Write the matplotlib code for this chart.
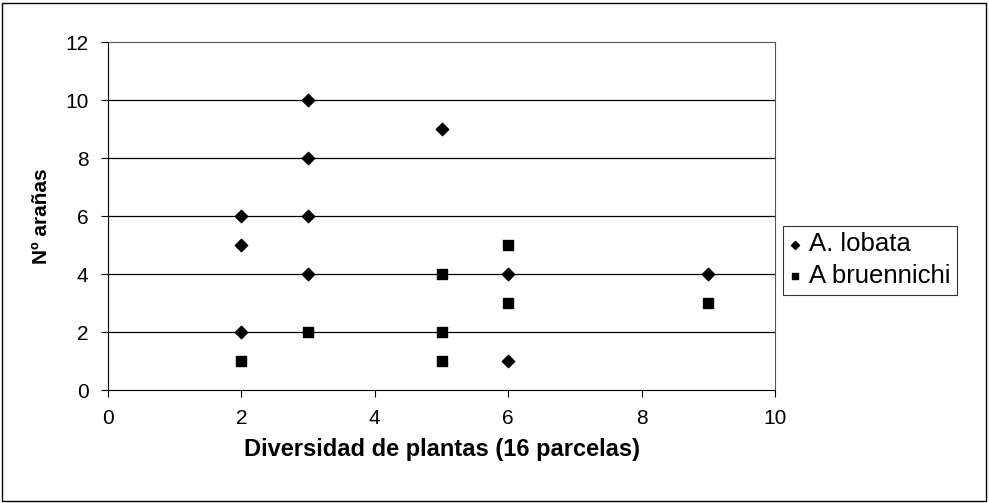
import matplotlib.pyplot as plt
from matplotlib.patches import Rectangle

plt.rcParams['font.family'] = ['Liberation Sans', 'DejaVu Sans']

# A. lobata (diamonds)
lobata_x = [2, 2, 2, 3, 3, 3, 3, 5, 6, 6, 9]
lobata_y = [6, 5, 2, 10, 8, 6, 4, 9, 4, 1, 4]

# A bruennichi (squares)
bruen_x = [2, 3, 5, 5, 5, 6, 6, 9]
bruen_y = [1, 2, 4, 2, 1, 5, 3, 3]

x_ticks = [0, 2, 4, 6, 8, 10]
y_ticks = [0, 2, 4, 6, 8, 10, 12]


def main():
    fig = plt.figure(figsize=(9.89, 5.03), dpi=100)
    ax = fig.add_axes([108 / 989, 113 / 503, 667 / 989, 348 / 503])

    # horizontal gridlines like Excel
    for y in y_ticks[1:-1]:
        ax.axhline(y, color='black', lw=0.9, zorder=1)

    ax.scatter(lobata_x, lobata_y, marker='D', s=40, color='black',
               zorder=3, label='A. lobata')
    ax.scatter(bruen_x, bruen_y, marker='s', s=55, color='black',
               zorder=3, label='A bruennichi')

    ax.set_xlim(0, 10)
    ax.set_ylim(0, 12)
    ax.set_xticks(x_ticks)
    ax.set_yticks(y_ticks)
    ax.tick_params(labelsize=15, length=5, width=0.8, pad=9)

    ax.spines['left'].set_color('black')
    ax.spines['bottom'].set_color('black')
    for s in ['top', 'right']:
        ax.spines[s].set_linestyle((0, (2, 1)))
        ax.spines[s].set_color('#555555')
        ax.spines[s].set_linewidth(0.8)

    ax.set_xlabel('Diversidad de plantas (16 parcelas)', fontsize=17,
                  fontweight='bold', labelpad=7)
    ax.set_ylabel('Nº arañas', fontsize=15, fontweight='bold', labelpad=10)

    leg = fig.legend(loc='upper left', bbox_to_anchor=(783 / 989, 1 - 226 / 503),
                     fontsize=18.5, frameon=True, fancybox=False,
                     edgecolor='black', handlelength=0.45, handletextpad=0.3,
                     borderpad=0.25, labelspacing=0.3, markerscale=0.65,
                     borderaxespad=0)
    leg.get_frame().set_linewidth(0.8)

    # outer chart border
    fig.patches.append(Rectangle((2 / 989, 2 / 503), 984 / 989, 498 / 503,
                                 transform=fig.transFigure, fill=False,
                                 edgecolor='black', lw=1))

    plt.savefig('out.png', dpi=100)


if __name__ == "__main__":
    main()
